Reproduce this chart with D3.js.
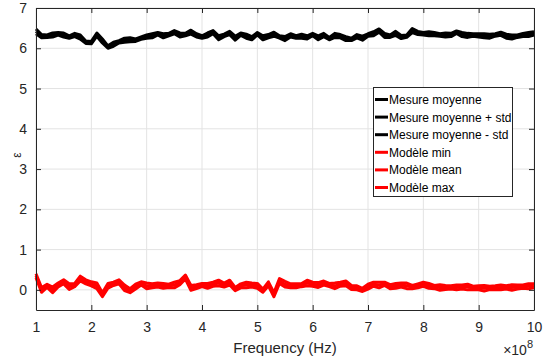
<!DOCTYPE html>
<html>
<head>
<meta charset="utf-8">
<script src="https://cdn.jsdelivr.net/npm/d3@7"></script>
<style>
  body { margin: 0; background: #fff; }
  svg { display: block; font-family: "Liberation Sans", Arial, sans-serif; }
</style>
</head>
<body>
<svg id="chart" width="547" height="361"></svg>
<script>
// frequency in units of 1e8 Hz
const freq = [1.0,1.1,1.2,1.3,1.4,1.5,1.6,1.7,1.8,1.9,2.0,2.1,2.2,2.3,2.4,2.5,2.6,2.7,2.8,2.9,
  3.0,3.1,3.2,3.3,3.4,3.5,3.6,3.7,3.8,3.9,4.0,4.1,4.2,4.3,4.4,4.5,4.6,4.7,4.8,4.9,
  5.0,5.1,5.2,5.3,5.4,5.5,5.6,5.7,5.8,5.9,6.0,6.1,6.2,6.3,6.4,6.5,6.6,6.7,6.8,6.9,
  7.0,7.1,7.2,7.3,7.4,7.5,7.6,7.7,7.8,7.9,8.0,8.1,8.2,8.3,8.4,8.5,8.6,8.7,8.8,8.9,
  9.0,9.1,9.2,9.3,9.4,9.5,9.6,9.7,9.8,9.9,10.0];

const mesureMean = [6.42,6.30,6.30,6.33,6.36,6.33,6.28,6.33,6.28,6.15,6.14,6.34,6.18,6.03,6.10,6.16,6.20,6.21,6.20,6.25,
  6.29,6.31,6.36,6.31,6.34,6.40,6.33,6.34,6.40,6.32,6.28,6.33,6.40,6.26,6.32,6.38,6.25,6.35,6.30,6.25,
  6.36,6.26,6.30,6.35,6.28,6.24,6.32,6.28,6.30,6.27,6.34,6.26,6.33,6.24,6.32,6.30,6.24,6.22,6.30,6.25,
  6.33,6.36,6.44,6.32,6.30,6.37,6.28,6.30,6.44,6.38,6.36,6.36,6.35,6.33,6.33,6.33,6.40,6.34,6.32,6.33,
  6.32,6.31,6.30,6.33,6.36,6.30,6.28,6.30,6.33,6.34,6.37];

const mesureStd = [0.06,0.04,0.03,0.05,0.03,0.05,0.03,0.04,0.05,0.03,0.03,0.04,0.05,0.03,0.05,0.03,0.05,0.05,0.03,0.03,
  0.04,0.05,0.03,0.05,0.03,0.04,0.05,0.03,0.05,0.04,0.03,0.05,0.04,0.05,0.03,0.04,0.05,0.03,0.05,0.04,
  0.03,0.05,0.04,0.05,0.03,0.05,0.04,0.03,0.05,0.04,0.03,0.05,0.04,0.03,0.05,0.04,0.05,0.03,0.04,0.05,
  0.03,0.05,0.04,0.05,0.03,0.05,0.04,0.03,0.05,0.04,0.03,0.05,0.04,0.03,0.05,0.04,0.03,0.05,0.05,0.03,
  0.04,0.05,0.05,0.03,0.04,0.05,0.05,0.03,0.04,0.05,0.04];

const modeleMean = [0.35,0.00,0.10,0.00,0.12,0.20,0.08,0.12,0.28,0.20,0.15,0.10,-0.12,0.10,0.15,0.20,0.05,-0.02,0.08,0.16,
  0.10,0.10,0.12,0.10,0.10,0.12,0.18,0.32,0.05,0.08,0.12,0.10,0.14,0.17,0.12,0.18,0.02,0.10,0.12,0.12,
  0.10,-0.02,0.15,-0.12,0.22,0.14,0.10,0.10,0.12,0.17,0.14,0.12,0.17,0.12,0.10,0.14,0.16,0.06,0.05,0.00,
  0.08,0.14,0.12,0.15,0.08,0.10,0.12,0.10,0.07,0.10,0.14,0.10,0.07,0.06,0.06,0.06,0.06,0.07,0.07,0.05,
  0.05,0.04,0.05,0.05,0.06,0.06,0.06,0.07,0.08,0.09,0.10];

const modeleSpread = [0.05,0.06,0.04,0.07,0.05,0.05,0.07,0.04,0.06,0.05,0.05,0.07,0.05,0.06,0.04,0.05,0.07,0.05,0.06,0.04,
  0.07,0.05,0.05,0.06,0.04,0.07,0.05,0.05,0.06,0.05,0.04,0.06,0.05,0.07,0.05,0.06,0.04,0.05,0.07,0.05,
  0.06,0.04,0.05,0.05,0.06,0.07,0.05,0.05,0.04,0.07,0.05,0.06,0.05,0.04,0.07,0.05,0.06,0.05,0.05,0.04,
  0.06,0.05,0.07,0.04,0.05,0.06,0.05,0.07,0.04,0.05,0.05,0.06,0.04,0.07,0.05,0.04,0.06,0.05,0.07,0.04,
  0.05,0.07,0.04,0.05,0.06,0.04,0.07,0.05,0.04,0.06,0.05];

const xTicks = [1,2,3,4,5,6,7,8,9,10];
const yTicks = [0,1,2,3,4,5,6,7];

const seriesNames = ["Mesure moyenne","Mesure moyenne + std","Mesure moyenne - std",
  "Modèle min","Modèle mean","Modèle max"];
const seriesColors = ["#000000","#000000","#000000","#ff0000","#ff0000","#ff0000"];

const series = [
  mesureMean,
  mesureMean.map((v, i) => v + mesureStd[i]),
  mesureMean.map((v, i) => v - mesureStd[i]),
  modeleMean.map((v, i) => v - modeleSpread[i]),
  modeleMean,
  modeleMean.map((v, i) => v + modeleSpread[i])
];

const svg = d3.select("#chart");
const plotLeft = 36, plotRight = 534, plotTop = 8, plotBottom = 310;

const x = d3.scaleLinear().domain([1, 10]).range([plotLeft, plotRight]);
const y = d3.scaleLinear().domain([-0.5, 7]).range([plotBottom, plotTop]);

const axisColor = "#262626";
const gridColor = "#e3e3e3";

// grid
svg.append("g").selectAll("line").data(xTicks).enter().append("line")
    .attr("x1", d => x(d)).attr("x2", d => x(d))
    .attr("y1", plotTop).attr("y2", plotBottom)
    .attr("stroke", gridColor).attr("stroke-width", 1);
svg.append("g").selectAll("line").data(yTicks).enter().append("line")
    .attr("x1", plotLeft).attr("x2", plotRight)
    .attr("y1", d => y(d)).attr("y2", d => y(d))
    .attr("stroke", gridColor).attr("stroke-width", 1);

// lines (red first, then black)
const line = d3.line()
    .x((d, i) => x(freq[i]))
    .y(d => y(d));

const order = [3, 4, 5, 0, 1, 2];
svg.append("g").selectAll("path").data(order).enter().append("path")
    .attr("d", k => line(series[k]))
    .attr("fill", "none")
    .attr("stroke", k => seriesColors[k])
    .attr("stroke-width", 3)
    .attr("stroke-linejoin", "round");

// axes
const xAxis = svg.append("g").attr("transform", `translate(0,${plotBottom})`)
    .call(d3.axisBottom(x).tickValues(xTicks).tickSizeInner(-5).tickSizeOuter(0).tickPadding(12));
const xAxisTop = svg.append("g").attr("transform", `translate(0,${plotTop})`)
    .call(d3.axisTop(x).tickValues(xTicks).tickSizeInner(-5).tickSizeOuter(0).tickFormat(""));
const yAxis = svg.append("g").attr("transform", `translate(${plotLeft},0)`)
    .call(d3.axisLeft(y).tickValues(yTicks).tickSizeInner(-5).tickSizeOuter(0).tickPadding(9));
const yAxisRight = svg.append("g").attr("transform", `translate(${plotRight},0)`)
    .call(d3.axisRight(y).tickValues(yTicks).tickSizeInner(-5).tickSizeOuter(0).tickFormat(""));

[xAxis, xAxisTop, yAxis, yAxisRight].forEach(g => {
  g.select(".domain").attr("stroke", axisColor).attr("stroke-width", 1);
  g.selectAll(".tick line").attr("stroke", axisColor);
  g.selectAll("text").attr("fill", axisColor)
      .style("font-size", "14px").style("font-family", "'Liberation Sans', Arial, sans-serif");
});

// labels
svg.append("text")
    .attr("x", (plotLeft + plotRight) / 2).attr("y", 353)
    .attr("text-anchor", "middle")
    .attr("fill", axisColor)
    .style("font-size", "15px")
    .text("Frequency (Hz)");

const mult = svg.append("text")
    .attr("x", 533).attr("y", 355)
    .attr("text-anchor", "end")
    .attr("fill", axisColor)
    .style("font-size", "14px");
mult.append("tspan").text("×10");
mult.append("tspan").attr("dy", -7).style("font-size", "11px").text("8");

svg.append("text")
    .attr("transform", "translate(21,155) rotate(-90)")
    .attr("text-anchor", "middle")
    .attr("fill", axisColor)
    .style("font-size", "12px")
    .text("ε");

// legend
const legend = svg.append("g");
legend.append("rect")
    .attr("x", 373.5).attr("y", 87.5)
    .attr("width", 139).attr("height", 109)
    .attr("fill", "#fff").attr("stroke", axisColor).attr("stroke-width", 1);

const rowY = d3.scaleLinear().domain([0, 5]).range([99.5, 187.5]);
const item = legend.selectAll("g.item").data(seriesNames).enter().append("g");
item.append("line")
    .attr("x1", 375).attr("x2", 388)
    .attr("y1", (d, i) => rowY(i)).attr("y2", (d, i) => rowY(i))
    .attr("stroke", (d, i) => seriesColors[i])
    .attr("stroke-width", 3);
item.append("text")
    .attr("x", 389).attr("y", (d, i) => rowY(i) + 4.5)
    .attr("fill", "#000")
    .style("font-size", "12px")
    .text(d => d);
</script>
</body>
</html>
